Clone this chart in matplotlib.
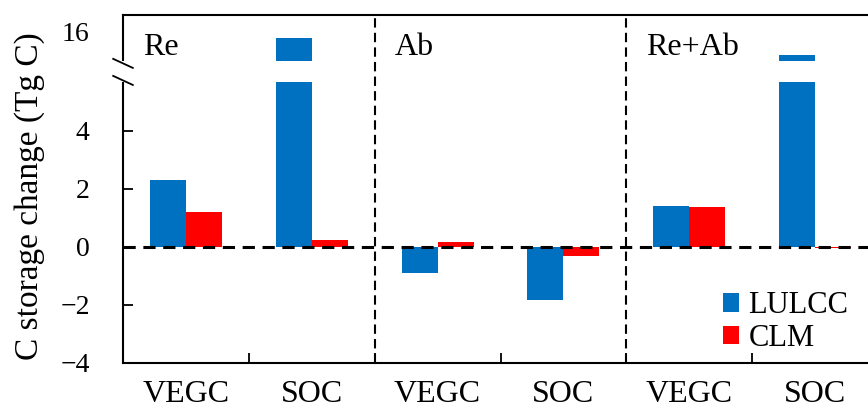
import numpy as np
import matplotlib.pyplot as plt
from matplotlib.patches import Rectangle

plt.rcParams['font.family'] = ['Liberation Serif', 'DejaVu Serif']

# data (Tg C)
categories = ['VEGC', 'SOC', 'VEGC', 'SOC', 'VEGC', 'SOC']
panels = ['Re', 'Ab', 'Re+Ab']
lulcc = [2.31, 15.8, -0.91, -1.83, 1.41, 15.2]
clm = [1.20, 0.24, 0.16, -0.31, 1.38, -0.05]

# broken axis: values between lo and hi are squeezed into a small gap
lo, hi, gap = 5.7, 15.0, 0.72


def forward(y):
    y = np.asarray(y, dtype=float)
    mid = lo + (y - lo) * gap / (hi - lo)
    return np.where(y <= lo, y, np.where(y >= hi, y - hi + lo + gap, mid))


def inverse(y):
    y = np.asarray(y, dtype=float)
    mid = lo + (y - lo) * (hi - lo) / gap
    return np.where(y <= lo, y, np.where(y >= lo + gap, y - lo - gap + hi, mid))


fig = plt.figure(figsize=(8.68, 4.12), dpi=100)
ax = fig.add_axes([123 / 868, 49 / 412, 755 / 868, 348 / 412])

x = np.arange(len(categories))
w = 0.286
ax.bar(x - w / 2, lulcc, w, color='#0070C0', label='LULCC', zorder=2)
ax.bar(x + w / 2, clm, w, color='#FF0000', label='CLM', zorder=2)

ax.set_yscale('function', functions=(forward, inverse))
ax.set_ylim(-4, inverse(8.0))
ax.set_xlim(-0.5, 5.5)

# white gap of the break, also cutting the left spine
ax.add_patch(Rectangle((-0.01, lo), 1.02, hi - lo, transform=ax.get_yaxis_transform(),
                       facecolor='white', edgecolor='none', zorder=3, clip_on=False))
for yb in [0.861, 0.812]:
    ax.plot([-0.013, 0.013], [yb + 0.013, yb - 0.013], color='black', lw=1.3,
            transform=ax.transAxes, clip_on=False, zorder=5)

ax.axhline(0, color='black', ls=(0, (4, 2.5)), lw=2.2, zorder=4)
for xv in [1.5, 3.5]:
    ax.axvline(xv, color='black', ls=(0, (4.5, 2.5)), lw=1.5, zorder=4)

for i, p in enumerate(panels):
    ax.text(2 * i - 0.34, inverse(6.62), p, fontsize=23, ha='left', va='baseline', zorder=5)

ax.set_yticks([-4, -2, 0, 2, 4, 16])
ax.set_yticklabels(['\u22124', '\u22122', '0', '2', '4', '16'])
ax.yaxis.get_major_ticks()[-1].tick1line.set_visible(False)
ax.tick_params(axis='y', direction='in', length=7, width=1.3, labelsize=20, pad=24)

ax.set_xticks(x)
ax.set_xticklabels(categories)
ax.set_xticks([0.5, 1.5, 2.5, 3.5, 4.5], minor=True)
ax.tick_params(axis='x', which='major', length=0, labelsize=23, pad=12)
ax.tick_params(axis='x', which='minor', direction='in', length=7, width=1.3)

ax.set_ylabel('C storage change (Tg C)', fontsize=24)
ax.yaxis.set_label_coords(-0.103, 0.48)

for s in ['left', 'bottom', 'top']:
    ax.spines[s].set_linewidth(1.5)
ax.spines['right'].set_visible(False)

ax.legend(loc='lower left', bbox_to_anchor=(0.778, -0.005), frameon=False, fontsize=22,
          handlelength=0.55, handleheight=0.55, handletextpad=0.3, labelspacing=0.1,
          borderaxespad=0)

fig.savefig('out.png', dpi=100)
